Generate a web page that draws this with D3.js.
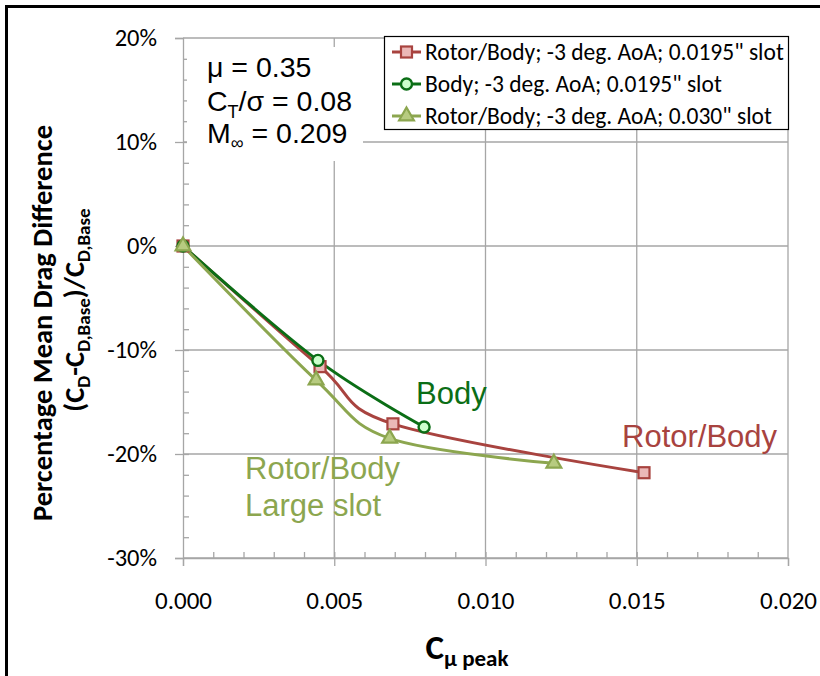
<!DOCTYPE html>
<html>
<head>
<meta charset="utf-8">
<script src="https://cdn.jsdelivr.net/npm/d3@7"></script>
<style>
  body { margin: 0; background: #fff; }
  svg { display: block; }
</style>
</head>
<body>
<div id="chart"></div>
<script>
// series data
const cmuRotorBody = [0, 0.00453, 0.00694, 0.01524];
const dragRotorBody = [0, -0.116, -0.171, -0.218];
const cmuBody = [0, 0.00446, 0.00797];
const dragBody = [0, -0.110, -0.174];
const cmuLargeSlot = [0, 0.00440, 0.00683, 0.01226];
const dragLargeSlot = [0, -0.129, -0.185, -0.209];

const seriesNames = [
  "Rotor/Body; -3 deg. AoA; 0.0195\" slot",
  "Body; -3 deg. AoA; 0.0195\" slot",
  "Rotor/Body; -3 deg. AoA; 0.030\" slot"
];

const xTickValues = [0, 0.005, 0.010, 0.015, 0.020];
const xTickLabels = ["0.000", "0.005", "0.010", "0.015", "0.020"];
const yTickValues = [0.2, 0.1, 0, -0.1, -0.2, -0.3];
const yTickLabels = ["20%", "10%", "0%", "-10%", "-20%", "-30%"];

const W = 820, H = 676;
const margin = { top: 38, right: 32, bottom: 118, left: 183 };
const width = W - margin.left - margin.right;
const height = H - margin.top - margin.bottom;

const calibri = "Carlito, Lato, 'Liberation Sans', sans-serif";
const arial = "'Liberation Sans', Arial, sans-serif";

const series = [
  { name: seriesNames[0], xs: cmuRotorBody, ys: dragRotorBody, line: "#A8433F", fill: "#EBB8B7", marker: "square" },
  { name: seriesNames[1], xs: cmuBody, ys: dragBody, line: "#0B6E16", fill: "#CCFFCC", marker: "circle" },
  { name: seriesNames[2], xs: cmuLargeSlot, ys: dragLargeSlot, line: "#8CA64F", fill: "#B7CB80", marker: "triangle" }
];

const svgRoot = d3.select("#chart").append("svg")
  .attr("width", W)
  .attr("height", H);

// outer frame (runs past the right and bottom edges)
svgRoot.append("rect")
  .attr("x", 6.5).attr("y", 6.5)
  .attr("width", W + 20).attr("height", H + 20)
  .attr("fill", "none")
  .attr("stroke", "#000")
  .attr("stroke-width", 3);

const svg = svgRoot.append("g")
  .attr("transform", `translate(${margin.left},${margin.top})`);

const x = d3.scaleLinear().domain([0, 0.02]).range([0, width]);
const y = d3.scaleLinear().domain([-0.3, 0.2]).range([height, 0]);

// gridlines
svg.append("g")
  .selectAll("line")
  .data(yTickValues)
  .enter().append("line")
  .attr("x1", 0).attr("x2", width)
  .attr("y1", d => y(d)).attr("y2", d => y(d))
  .attr("stroke", "#A6A6A6").attr("stroke-width", 1.3);

svg.append("g")
  .selectAll("line")
  .data(xTickValues.slice(1))
  .enter().append("line")
  .attr("x1", d => x(d)).attr("x2", d => x(d))
  .attr("y1", 0).attr("y2", height)
  .attr("stroke", "#A6A6A6").attr("stroke-width", 1.3);

// minor ticks (inside)
svg.append("g")
  .attr("transform", `translate(0,${height})`)
  .call(d3.axisTop(x).tickValues(d3.range(1, 20).map(i => i * 0.001)).tickSize(6).tickFormat(""))
  .call(g => g.select(".domain").remove())
  .selectAll("line").attr("stroke", "#A6A6A6").attr("stroke-width", 1.3);

svg.append("g")
  .call(d3.axisRight(y).tickValues(d3.range(-14, 10).map(i => i * 0.02)).tickSize(6).tickFormat(""))
  .call(g => g.select(".domain").remove())
  .selectAll("line").attr("stroke", "#A6A6A6").attr("stroke-width", 1.3);

// main axes
const xAxis = svg.append("g")
  .attr("transform", `translate(0,${height})`)
  .call(d3.axisBottom(x).tickValues(xTickValues).tickSize(8).tickPadding(25)
    .tickFormat((d, i) => xTickLabels[i]));
xAxis.select(".domain").attr("stroke", "#A6A6A6").attr("stroke-width", 1.3);
xAxis.selectAll("line").attr("stroke", "#A6A6A6").attr("stroke-width", 1.3);
xAxis.selectAll("text")
  .style("font-family", calibri).style("font-size", "25px").attr("fill", "#000");

const yAxis = svg.append("g")
  .call(d3.axisLeft(y).tickValues(yTickValues).tickSize(8).tickPadding(18)
    .tickFormat((d, i) => yTickLabels[i]));
yAxis.select(".domain").attr("stroke", "#A6A6A6").attr("stroke-width", 1.3);
yAxis.selectAll("line").attr("stroke", "#A6A6A6").attr("stroke-width", 1.3);
yAxis.selectAll("text")
  .style("font-family", calibri).style("font-size", "24.5px").attr("fill", "#000");

// parameter box
svg.append("rect")
  .attr("x", 4).attr("y", 9).attr("width", 176).attr("height", 114)
  .attr("fill", "#fff");

const params = svg.append("text")
  .style("font-family", arial).style("font-size", "28.5px").attr("fill", "#000");
params.append("tspan").attr("x", 24).attr("y", 39).text("μ = 0.35");
params.append("tspan").attr("x", 24).attr("y", 73).text("C");
params.append("tspan").attr("dy", 7).style("font-size", "18px").text("T");
params.append("tspan").attr("dy", -7).text("/σ = 0.08");
params.append("tspan").attr("x", 24).attr("y", 105).text("M");
params.append("tspan").attr("dy", 6).style("font-size", "18px").text("∞");
params.append("tspan").attr("dy", -6).text(" = 0.209");

// lines
const line = d3.line()
  .x(d => x(d[0]))
  .y(d => y(d[1]))
  .curve(d3.curveCatmullRom.alpha(0));

series.forEach(s => {
  const pts = s.xs.map((v, i) => [v, s.ys[i]]);
  svg.append("path")
    .datum(pts)
    .attr("d", line)
    .attr("fill", "none")
    .attr("stroke", s.line)
    .attr("stroke-width", 3);
});

function drawMarker(g, s, cx, cy) {
  if (s.marker === "square") {
    g.append("rect")
      .attr("x", cx - 5.5).attr("y", cy - 5.5).attr("width", 11).attr("height", 11)
      .attr("fill", s.fill).attr("stroke", s.line).attr("stroke-width", 2.2);
  } else if (s.marker === "circle") {
    g.append("circle")
      .attr("cx", cx).attr("cy", cy).attr("r", 5.5)
      .attr("fill", s.fill).attr("stroke", s.line).attr("stroke-width", 2.4);
  } else {
    g.append("path")
      .attr("d", d3.symbol(d3.symbolTriangle, 95)())
      .attr("transform", `translate(${cx},${cy})`)
      .attr("fill", s.fill).attr("stroke", s.line).attr("stroke-width", 2.2);
  }
}

series.forEach(s => {
  const g = svg.append("g");
  s.xs.forEach((v, i) => drawMarker(g, s, x(v), y(s.ys[i])));
});

// legend
const legend = svg.append("g").attr("transform", `translate(${384 - margin.left},${36 - margin.top})`);
legend.append("rect")
  .attr("x", 0.5).attr("y", 0.5).attr("width", 404).attr("height", 93)
  .attr("fill", "#fff").attr("stroke", "#000").attr("stroke-width", 1.2);

series.forEach((s, i) => {
  const cy = 16 + i * 32;
  const row = legend.append("g");
  row.append("line")
    .attr("x1", 8).attr("x2", 37).attr("y1", cy).attr("y2", cy)
    .attr("stroke", s.line).attr("stroke-width", 3);
  drawMarker(row, s, 22.5, cy);
  row.append("text")
    .attr("x", 41).attr("y", cy + 8)
    .style("font-family", calibri).style("font-size", "23.5px")
    .attr("fill", "#000")
    .text(s.name);
});

// annotations
svg.append("text")
  .attr("x", 416 - margin.left).attr("y", 404 - margin.top)
  .style("font-family", arial).style("font-size", "31px")
  .attr("fill", "#0B6E16").text("Body");

svg.append("text")
  .attr("x", 622 - margin.left).attr("y", 447 - margin.top)
  .style("font-family", arial).style("font-size", "31px")
  .attr("fill", "#A8433F").text("Rotor/Body");

const big = svg.append("text")
  .style("font-family", arial).style("font-size", "31px")
  .attr("fill", "#8CA64F");
big.append("tspan").attr("x", 245 - margin.left).attr("y", 479 - margin.top).text("Rotor/Body");
big.append("tspan").attr("x", 245 - margin.left).attr("y", 516 - margin.top).text("Large slot");

// axis titles
const xTitle = svgRoot.append("text")
  .attr("x", 467).attr("y", 659)
  .attr("text-anchor", "middle")
  .style("font-family", calibri).style("font-weight", "bold").style("font-size", "35px")
  .attr("fill", "#000");
xTitle.append("tspan").text("C");
xTitle.append("tspan").attr("dy", 7).style("font-size", "23px").text("μ peak");

const yTitle = svgRoot.append("g")
  .attr("transform", "translate(52,323) rotate(-90)");
yTitle.append("text")
  .attr("x", 0).attr("y", 0)
  .attr("text-anchor", "middle")
  .style("font-family", calibri).style("font-weight", "bold").style("font-size", "28.5px")
  .attr("fill", "#000")
  .text("Percentage Mean Drag Difference");

const y2 = yTitle.append("text")
  .attr("x", 13).attr("y", 32)
  .attr("text-anchor", "middle")
  .style("font-family", calibri).style("font-weight", "bold").style("font-size", "28.5px")
  .attr("fill", "#000");
y2.append("tspan").text("(C");
y2.append("tspan").attr("dy", 6).style("font-size", "19px").text("D");
y2.append("tspan").attr("dy", -6).text("-C");
y2.append("tspan").attr("dy", 6).style("font-size", "19px").text("D,Base");
y2.append("tspan").attr("dy", -6).text(")/C");
y2.append("tspan").attr("dy", 6).style("font-size", "19px").text("D,Base");
</script>
</body>
</html>
